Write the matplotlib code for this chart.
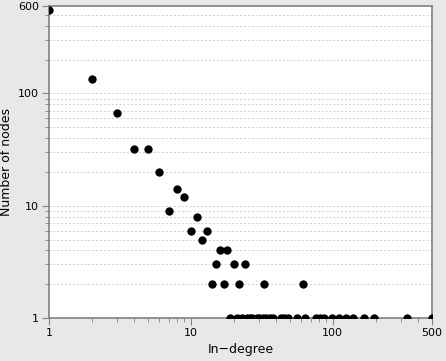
import matplotlib
matplotlib.use("Agg")
from matplotlib import pyplot as plt
from matplotlib.ticker import FixedLocator, FixedFormatter, NullFormatter

# in-degree vs number of nodes
in_degree = [1, 2, 3, 4, 5, 6, 7, 8, 9, 10, 11, 12, 13,
             14, 15, 16, 17, 18, 20, 22, 24, 33, 62,
             19, 21, 23, 25, 26, 27, 29, 30, 32, 34, 36, 38,
             43, 45, 48, 56, 64, 76, 81, 87, 99, 110, 124, 139,
             167, 196, 335, 500]
num_nodes = [550, 134, 67, 32, 32, 20, 9, 14, 12, 6, 8, 5, 6,
             2, 3, 4, 2, 4, 3, 2, 3, 2, 2,
             1, 1, 1, 1, 1, 1, 1, 1, 1, 1, 1, 1,
             1, 1, 1, 1, 1, 1, 1, 1, 1, 1, 1, 1,
             1, 1, 1, 1]

x_ticks = [1, 10, 100, 500]
y_ticks = [1, 10, 100, 600]
x_minor = [2, 3, 4, 5, 6, 7, 8, 9, 20, 30, 40, 50, 60, 70, 80, 90, 200, 300, 400]
y_minor = [2, 3, 4, 5, 6, 7, 8, 9, 20, 30, 40, 50, 60, 70, 80, 90, 200, 300, 400, 500]

fig = plt.figure(figsize=(4.46, 3.61), dpi=100, facecolor="#e8e8e8")
ax = fig.add_axes([49 / 446, 1 - 318 / 361, 383 / 446, 312 / 361])
ax.set_facecolor("white")

ax.scatter(in_degree, num_nodes, s=36, color="black", zorder=3, linewidths=0)

ax.set_xscale("log")
ax.set_yscale("log")
ax.set_xlim(1, 500)
ax.set_ylim(1, 600)

ax.xaxis.set_major_locator(FixedLocator(x_ticks))
ax.xaxis.set_major_formatter(FixedFormatter([str(v) for v in x_ticks]))
ax.yaxis.set_major_locator(FixedLocator(y_ticks))
ax.yaxis.set_major_formatter(FixedFormatter([str(v) for v in y_ticks]))
ax.xaxis.set_minor_locator(FixedLocator(x_minor))
ax.yaxis.set_minor_locator(FixedLocator(y_minor))
ax.xaxis.set_minor_formatter(NullFormatter())
ax.yaxis.set_minor_formatter(NullFormatter())

ax.tick_params(which="major", length=5, color="#808080", labelsize=8, pad=2)
ax.tick_params(which="minor", length=3, color="#808080")

ax.grid(True, axis="y", which="both", linestyle=(0, (2, 2)), color="#d0d0d0", linewidth=0.7)
for side in ax.spines.values():
    side.set_color("#808080")
    side.set_linewidth(1.2)

ax.set_xlabel("In\u2212degree", fontsize=9)
ax.set_ylabel("Number of nodes", fontsize=9)

fig.savefig("out.png", dpi=100, facecolor=fig.get_facecolor())
